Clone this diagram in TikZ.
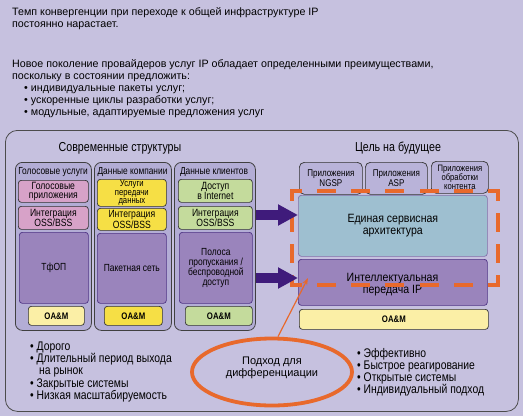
\documentclass[tikz,border=0pt]{standalone}
\usepackage{fontspec}
\setmainfont{Liberation Sans}
\newfontfamily\nfont{Liberation Sans}[FakeStretch=0.88]
\newfontfamily\cfont{Liberation Sans}[FakeStretch=0.82]
\newfontfamily\bfontx{Liberation Sans}[FakeStretch=0.83]
\usetikzlibrary{arrows.meta,shapes.geometric}
\definecolor{bgc}{HTML}{C6C1DF}
\definecolor{colc}{HTML}{B3ADD5}
\definecolor{appc}{HTML}{B9B3D9}
\definecolor{purp}{HTML}{9A84BC}
\definecolor{purpline}{HTML}{4E3384}
\definecolor{pinkc}{HTML}{D7A2C8}
\definecolor{yelc}{HTML}{F6DF45}
\definecolor{lyelc}{HTML}{FBEFA6}
\definecolor{grnc}{HTML}{C4DB9C}
\definecolor{tealc}{HTML}{9EBFD0}
\definecolor{orc}{HTML}{E8692C}
\definecolor{arrc}{HTML}{3F1B7B}
\tikzset{
  txt/.style={anchor=base west, inner sep=0pt, font=\fontsize{10.7}{12}\selectfont},
  btxt/.style={anchor=base west, inner sep=0pt, font=\bfontx\fontsize{12.5}{14}\selectfont},
  ttl/.style={inner sep=0pt, font=\cfont\fontsize{13}{14}\selectfont},
  hdr/.style={inner sep=0pt, font=\cfont\fontsize{10.2}{11}\selectfont},
  frame/.style={draw=black!70, line width=0.8pt, rounded corners=12pt, anchor=north west, inner sep=0pt},
  colbox/.style={draw=black!75, fill=colc, line width=0.8pt, rounded corners=7pt, anchor=north west, inner sep=0pt},
  bx/.style={draw=black!80, line width=0.7pt, rounded corners=3pt, inner sep=0pt, align=center, anchor=north west, font=\cfont\fontsize{10.5}{9}\selectfont},
  pbx/.style={draw=purpline, fill=purp, line width=0.7pt, rounded corners=3pt, inner sep=0pt, align=center, anchor=north west, font=\cfont\fontsize{10.3}{10}\selectfont},
  oam/.style={bx, font=\cfont\bfseries\fontsize{9.5}{10}\selectfont},
  appbx/.style={draw=black!80, fill=appc, line width=0.7pt, rounded corners=5pt, inner sep=0pt, align=center, anchor=north west, font=\cfont\fontsize{9.8}{9.5}\selectfont},
  bigtxt/.style={inner sep=0pt, align=center, font=\nfont\fontsize{12}{12.5}\selectfont},
  bigarrow/.style={draw=arrc, line width=10pt, -{Triangle[length=20pt,width=20pt]}},
  odash/.style={draw=orc, line width=4pt, line cap=rect},
}
\begin{document}
\begin{tikzpicture}[x=1pt,y=-1pt]
\fill[bgc] (0,0) rectangle (523,416);
\useasboundingbox (0,0) rectangle (523,416);

% top texts
\node[txt] (t1) at (12,15) {Темп конвергенции при переходе к общей инфраструктуре IP};
\node[txt] (t2) at (12,27) {постоянно нарастает.};
\node[txt] (t3) at (12,67) {Новое поколение провайдеров услуг IP обладает определенными преимуществами,};
\node[txt] (t4) at (12,79) {поскольку в состоянии предложить:};
\node[txt] (t5) at (24,91) {• индивидуальные пакеты услуг;};
\node[txt] (t6) at (24,103) {• ускоренные циклы разработки услуг;};
\node[txt] (t7) at (24,115) {• модульные, адаптируемые предложения услуг};

% frame
\node[frame, minimum width=513, minimum height=281] (fr) at (5,130) {};
\node[ttl] (s1) at (120,148) {Современные структуры};
\node[ttl] (s2) at (398,148) {Цель на будущее};

% columns
\node[colbox, minimum width=76, minimum height=168] (c1) at (15,162) {};
\node[colbox, minimum width=77, minimum height=168] (c2) at (94,162) {};
\node[colbox, minimum width=81, minimum height=168] (c3) at (174,162) {};
\node[hdr] (h1) at (53,172) {Голосовые услуги};
\node[hdr] (h2) at (132.5,172) {Данные компании};
\node[hdr] (h3) at (214,172) {Данные клиентов};

% column 1
\node[bx, fill=pinkc, minimum width=70, minimum height=22] (g1) at (18,180) {Голосовые\\приложения};
\node[bx, fill=pinkc, minimum width=70, minimum height=23] (g2) at (18,206) {Интеграция\\OSS/BSS};
\node[pbx, minimum width=69, minimum height=71] (g3) at (19,232) {ТфОП};
\node[oam, fill=lyelc, minimum width=56, minimum height=19] (g4) at (28,306) {OA\&M};

% column 2
\node[bx, fill=yelc, minimum width=69, minimum height=27, font=\cfont\fontsize{9.4}{8.6}\selectfont] (d1) at (97,179) {Услуги\\передачи\\данных};
\node[bx, fill=yelc, minimum width=69, minimum height=22] (d2) at (97,208) {Интеграция\\OSS/BSS};
\node[pbx, minimum width=69, minimum height=70] (d3) at (97,233) {Пакетная сеть};
\node[oam, fill=yelc, minimum width=58, minimum height=19] (d4) at (104,306) {OA\&M};

% column 3
\node[bx, fill=grnc, minimum width=74, minimum height=23] (k1) at (178,179) {Доступ\\в Internet};
\node[bx, fill=grnc, minimum width=74, minimum height=23] (k2) at (178,206) {Интеграция\\OSS/BSS};
\node[pbx, minimum width=73, minimum height=71] (k3) at (179,232) {Полоса\\пропускания /\\беспроводной\\доступ};
\node[oam, fill=grnc, minimum width=67, minimum height=19] (k4) at (185,306) {OA\&M};

% right side
\node[appbx, minimum width=63, minimum height=32] (p1) at (299,162) {Приложения\\NGSP};
\node[appbx, minimum width=62, minimum height=32] (p2) at (365,162) {Приложения\\ASP};
\node[appbx, minimum width=57, minimum height=32, font=\cfont\fontsize{9.3}{9.4}\selectfont] (p3) at (431,161) {Приложения\\обработки\\контента};
\node[bx, draw=purpline!70, fill=tealc, minimum width=189, minimum height=61] (u1) at (298,195) {};
\node[bigtxt] (u1t) at (u1.center) {Единая сервисная\\архитектура};
\node[pbx, minimum width=189, minimum height=46] (u2) at (298,259) {};
\node[bigtxt] (u2t) at (392.5,284.5) {Интеллектуальная\\передача IP};
\node[oam, fill=lyelc, minimum width=189, minimum height=20] (u3) at (299,309) {OA\&M};

% orange dashed frame
\coordinate (o1) at (292,191);
\coordinate (o2) at (498,191);
\coordinate (o3) at (498,285);
\coordinate (o4) at (292,285);
\draw[odash, dash pattern=on 15pt off 19.33pt, dash phase=7.5pt] (o1) -- (o2);
\draw[odash, dash pattern=on 15pt off 19.33pt, dash phase=7.5pt] (o4) -- (o3);
\draw[odash, dash pattern=on 15pt off 16.33pt, dash phase=7.5pt] (o1) -- (o4);
\draw[odash, dash pattern=on 15pt off 16.33pt, dash phase=7.5pt] (o2) -- (o3);

% big arrows
\coordinate (a1s) at (c3.east |- 0,215);
\coordinate (a1e) at (u1.west |- 0,215);
\coordinate (a2s) at (c3.east |- 0,278);
\coordinate (a2e) at (u2.west |- 0,278);
\draw[bigarrow] (a1s) -- (a1e);
\draw[bigarrow] (a2s) -- (a2e);

% ellipse
\node[draw=orc, line width=3.8pt, ellipse, minimum width=160, minimum height=67, inner sep=0pt] (el) at (272,372) {};
\node[inner sep=0pt, align=center, font=\fontsize{11}{12.5}\selectfont] (elt) at (272,368) {Подход для\\дифференциации};
\coordinate (ae) at (308,278);
\draw[orc, line width=1.2pt, -{Stealth[length=7pt,width=5pt]}] (el.north) ++(6,0) coordinate (as) -- (ae);

% bullets left
\node[btxt] (l1) at (30,350) {• Дорого};
\node[btxt] (l2) at (30,362) {• Длительный период выхода};
\node[btxt] (l3) at (39,374) {на рынок};
\node[btxt] (l4) at (30,387) {• Закрытые системы};
\node[btxt] (l5) at (30,399) {• Низкая масштабируемость};

% bullets right
\node[btxt] (r1) at (357,357) {• Эффективно};
\node[btxt] (r2) at (357,369) {• Быстрое реагирование};
\node[btxt] (r3) at (357,381) {• Открытые системы};
\node[btxt] (r4) at (357,393) {• Индивидуальный подход};
\end{tikzpicture}
\end{document}
